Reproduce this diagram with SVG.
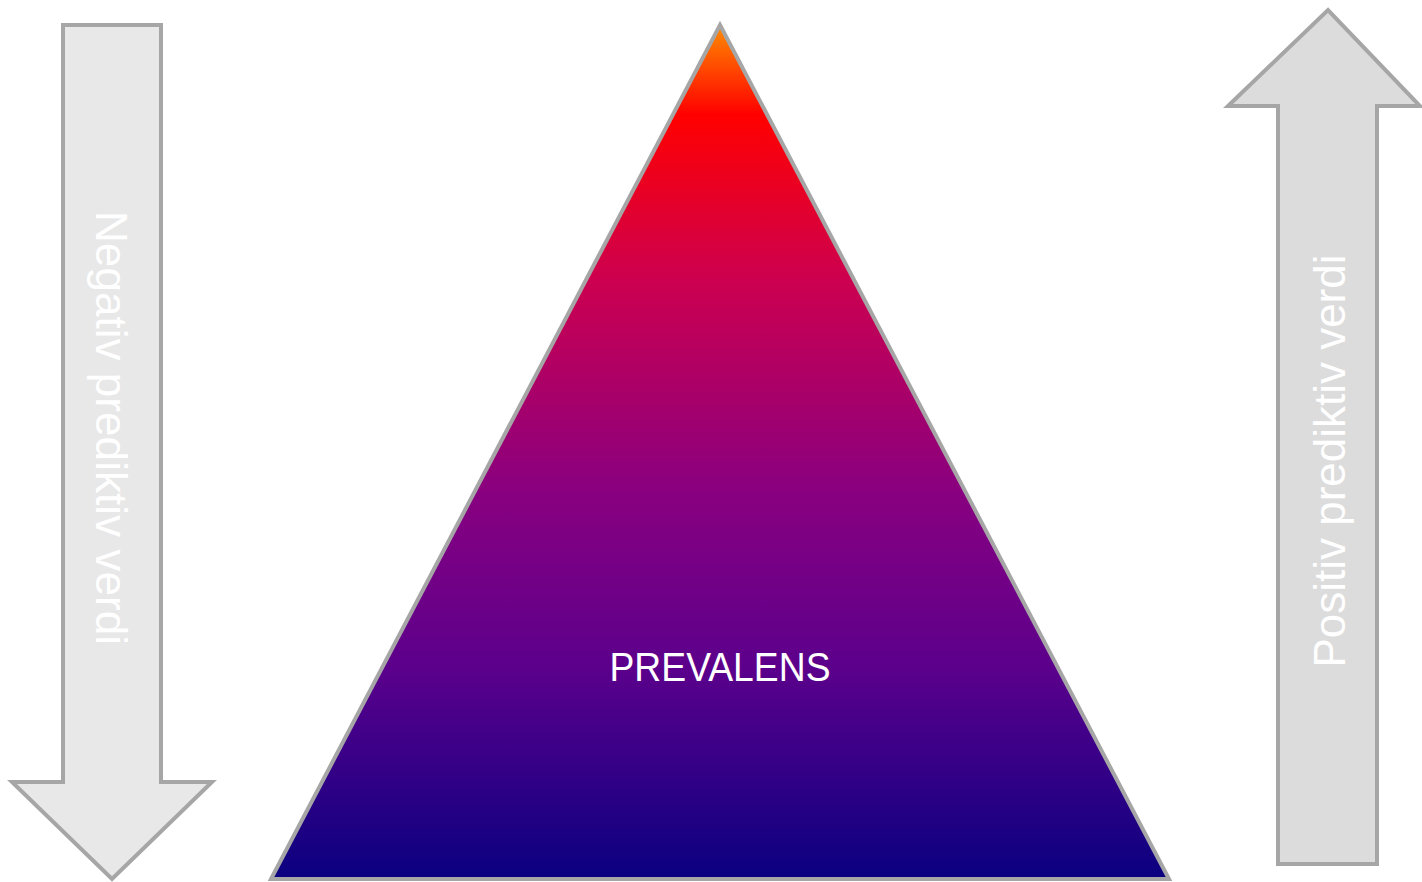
<svg xmlns="http://www.w3.org/2000/svg" width="1422" height="882" viewBox="0 0 1422 882">
<style>
.shape{stroke:#a6a6a6;stroke-width:4;stroke-linejoin:miter}
.lbl{font-family:"Liberation Sans",Arial,sans-serif;fill:#ffffff}
</style>
<defs>
<linearGradient id="tri" x1="0" y1="0" x2="0" y2="1">
<stop offset="0" stop-color="#ff8c00"/>
<stop offset="0.105" stop-color="#ff0000"/>
<stop offset="0.3" stop-color="#cc0050"/>
<stop offset="0.55" stop-color="#880080"/>
<stop offset="0.75" stop-color="#5c008c"/>
<stop offset="1" stop-color="#0a0080"/>
</linearGradient>
</defs>
<rect width="1422" height="882" fill="#ffffff"/>
<g id="left-arrow">
<polygon class="shape" fill="#e8e8e8" points="63,25 161,25 161,782 212,782 112,879 12,782 63,782"/>
<text class="lbl" font-size="44" text-anchor="middle" transform="translate(96,428) rotate(90)" textLength="434" lengthAdjust="spacingAndGlyphs">Negativ prediktiv verdi</text>
</g>
<g id="triangle">
<polygon class="shape" fill="url(#tri)" stroke-linejoin="round" points="720,25 1169,879 271,879"/>
<text class="lbl" font-size="40" text-anchor="middle" x="720" y="681" textLength="221" lengthAdjust="spacingAndGlyphs">PREVALENS</text>
</g>
<g id="right-arrow">
<polygon class="shape" fill="#dcdcdc" points="1278,864 1377,864 1377,106 1420,106 1328,10 1228,106 1278,106"/>
<text class="lbl" font-size="44" text-anchor="middle" transform="translate(1345,461) rotate(-90)" textLength="413" lengthAdjust="spacingAndGlyphs">Positiv prediktiv verdi</text>
</g>
<g id="connectors"/>
</svg>
